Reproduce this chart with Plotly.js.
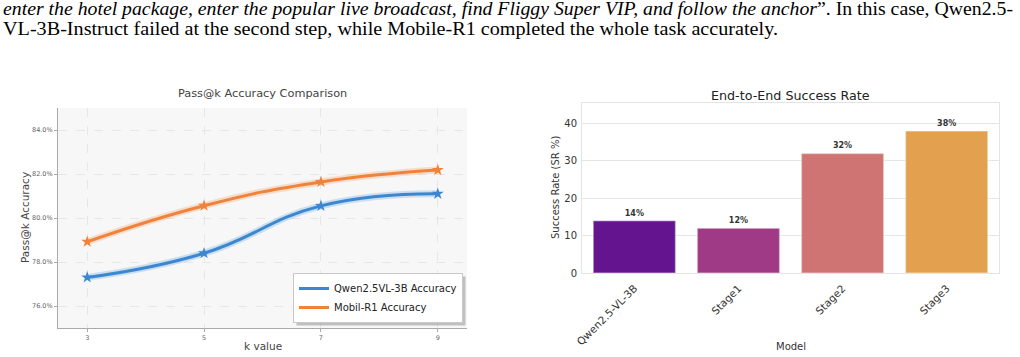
<!DOCTYPE html>
<html>
<head>
<meta charset="utf-8">
<script src="https://cdn.plot.ly/plotly-3.0.1.min.js"></script>
<style>
  html, body { margin: 0; padding: 0; background: #fff; }
  #wrap { position: relative; width: 1020px; height: 357px; overflow: hidden; }
  #chart { position: absolute; left: 0; top: 0; width: 1020px; height: 357px; }
  .line { position: absolute; left: 3px; white-space: nowrap; font-family: "Liberation Serif", "Times New Roman", serif;
          font-size: 18.5px; line-height: 19px; height: 19px; color: #000; transform-origin: 0 0; z-index: 5; }
</style>
</head>
<body>
<div id="wrap">
  <div id="chart"></div>
  <div class="line" id="l1" data-w="1010" style="top:0px;"><i>enter the hotel package, enter the popular live broadcast, find Fliggy Super VIP, and follow the anchor</i>”. In this case, Qwen2.5-</div>
  <div class="line" id="l2" data-w="775" style="top:20px;">VL-3B-Instruct failed at the second step, while Mobile-R1 completed the whole task accurately.</div>
</div>
<script>
// ---- data ----
const kValues = [3, 5, 7, 9];
const qwenAcc = [77.3, 78.4, 80.55, 81.1];
const mobilAcc = [78.92, 80.56, 81.64, 82.18];
const seriesNames = ['Qwen2.5VL-3B Accuracy', 'Mobil-R1 Accuracy'];
const models = ['Qwen2.5-VL-3B', 'Stage1', 'Stage2', 'Stage3'];
const successRate = [14, 12, 32, 38];
const barColors = ['#63148e', '#9e3a86', '#d07373', '#e3a14f'];
const accTicks = [76, 78, 80, 82, 84];
const srTicks = [0, 10, 20, 30, 40];

// fit header text lines
document.querySelectorAll('.line').forEach(el => {
  const w = el.getBoundingClientRect().width;
  el.style.transform = 'scaleX(' + (parseFloat(el.dataset.w) / w) + ')';
});

const W = 1020, H = 357;
const px = x => x / W;
const py = y => (H - y) / H;

const blue = '#3a87d2', orange = '#f0823a';
const FONT = 'DejaVu Sans, sans-serif';
const SM = 1.3;

function seriesTraces(yv, color, name) {
  return [
    {x: kValues, y: yv, type: 'scatter', mode: 'lines', line: {color: color, width: 7, shape: 'spline', smoothing: SM},
     opacity: 0.22, showlegend: false, hoverinfo: 'skip', xaxis: 'x', yaxis: 'y'},
    {x: kValues, y: yv, name: name, type: 'scatter', mode: 'lines',
     line: {color: color, width: 3, shape: 'spline', smoothing: SM}, xaxis: 'x', yaxis: 'y'},
    {x: kValues, y: yv, type: 'scatter', mode: 'markers', showlegend: false,
     marker: {symbol: 'star', size: 9, color: color}, xaxis: 'x', yaxis: 'y'}
  ];
}

const traces = [
  ...seriesTraces(qwenAcc, blue, seriesNames[0]),
  ...seriesTraces(mobilAcc, orange, seriesNames[1]),
  {x: models, y: successRate, type: 'bar', width: 0.79, showlegend: false,
   marker: {color: barColors, line: {color: 'rgba(255,255,255,0.35)', width: 1.5}},
   text: successRate.map(v => v + '%'), textposition: 'outside', cliponaxis: false,
   textfont: {family: FONT, size: 8, color: '#333', weight: 'bold'},
   xaxis: 'x2', yaxis: 'y2'}
];

const layout = {
  width: W, height: H,
  margin: {l: 0, r: 0, t: 0, b: 0},
  paper_bgcolor: '#ffffff',
  plot_bgcolor: '#ffffff',
  font: {family: FONT, color: '#333'},
  showlegend: true,
  xaxis: {
    domain: [px(58), px(467)], range: [2.5, 9.5], tickvals: kValues,
    showgrid: true, gridcolor: '#e2e2e2', griddash: 'dash', gridwidth: 0.8,
    showline: true, linecolor: '#aaaaaa', linewidth: 1, zeroline: false,
    ticks: 'outside', ticklen: 3, tickcolor: '#aaaaaa',
    tickfont: {size: 6.5, color: '#666'}, anchor: 'y'
  },
  yaxis: {
    domain: [py(328), py(108)], range: [75, 85], tickvals: accTicks,
    ticktext: accTicks.map(v => v.toFixed(1) + '%'),
    showgrid: true, gridcolor: '#e2e2e2', griddash: 'dash', gridwidth: 0.8,
    showline: true, linecolor: '#aaaaaa', linewidth: 1, zeroline: false,
    ticks: 'outside', ticklen: 3, tickcolor: '#aaaaaa',
    tickfont: {size: 6.5, color: '#666'}, anchor: 'x'
  },
  xaxis2: {
    domain: [px(582.3), px(998.7)], range: [-0.5, 3.5], type: 'category',
    showgrid: false, showline: true, mirror: true, linecolor: '#e4e4e4', linewidth: 1.2,
    zeroline: false, tickangle: -45, ticks: 'outside', ticklen: 4, tickcolor: 'rgba(0,0,0,0)',
    tickfont: {size: 10.5, color: '#333'}, anchor: 'y2'
  },
  yaxis2: {
    domain: [py(273), py(102.7)], range: [0, 45.6], tickvals: srTicks,
    showgrid: true, gridcolor: '#e6e6e6', gridwidth: 1,
    showline: true, mirror: true, linecolor: '#e4e4e4', linewidth: 1.2, zeroline: false,
    ticks: 'outside', ticklen: 2, tickcolor: 'rgba(0,0,0,0)',
    tickfont: {size: 10, color: '#333'}, anchor: 'x2'
  },
  legend: {
    x: px(463), y: py(323), xanchor: 'right', yanchor: 'bottom',
    bgcolor: '#ffffff', bordercolor: '#c8c8c8', borderwidth: 1,
    font: {family: FONT, size: 10, color: '#222'}, tracegroupgap: 0, itemwidth: 30
  },
  shapes: [
    {type: 'rect', xref: 'paper', yref: 'paper', x0: px(304), x1: px(466), y0: py(326), y1: py(293),
     fillcolor: 'rgba(0,0,0,0.22)', line: {width: 0}, layer: 'above'},
    {type: 'rect', xref: 'paper', yref: 'paper', x0: px(58), x1: px(467), y0: py(328), y1: py(108),
     fillcolor: '#f7f7f7', line: {width: 0}, layer: 'below'}
  ],
  annotations: [
    {text: 'Pass@k Accuracy Comparison', xref: 'paper', yref: 'paper', x: px(262.5), y: py(94), showarrow: false,
     font: {size: 11.3, color: '#444'}, xanchor: 'center', yanchor: 'middle'},
    {text: 'Pass@k Accuracy', xref: 'paper', yref: 'paper', x: px(25), y: py(218), showarrow: false, textangle: -90,
     font: {size: 10.5, color: '#444'}, xanchor: 'center', yanchor: 'middle'},
    {text: 'k value', xref: 'paper', yref: 'paper', x: px(262.5), y: py(345.5), showarrow: false,
     font: {size: 10.5, color: '#444'}, xanchor: 'center', yanchor: 'middle'},
    {text: 'End-to-End Success Rate', xref: 'paper', yref: 'paper', x: px(790.5), y: py(95), showarrow: false,
     font: {size: 12.7, color: '#222'}, xanchor: 'center', yanchor: 'middle'},
    {text: 'Success Rate (SR %)', xref: 'paper', yref: 'paper', x: px(555), y: py(188), showarrow: false, textangle: -90,
     font: {size: 10, color: '#333'}, xanchor: 'center', yanchor: 'middle'},
    {text: 'Model', xref: 'paper', yref: 'paper', x: px(790.5), y: py(346.5), showarrow: false,
     font: {size: 10, color: '#333'}, xanchor: 'center', yanchor: 'middle'}
  ]
};

Plotly.newPlot('chart', traces, layout, {staticPlot: true, displayModeBar: false}).then(gd => {
  // align the legend's drop shadow with the actual legend box
  const bg = gd.querySelector('.legend .bg');
  if (!bg) return;
  const r = bg.getBoundingClientRect();
  const c = gd.getBoundingClientRect();
  const x0 = r.left - c.left + 3, x1 = r.right - c.left + 3;
  const y0 = r.top - c.top + 3, y1 = r.bottom - c.top + 3;
  return Plotly.relayout(gd, {
    'shapes[0].x0': px(x0), 'shapes[0].x1': px(x1),
    'shapes[0].y0': py(y1), 'shapes[0].y1': py(y0)
  });
});
</script>
</body>
</html>
